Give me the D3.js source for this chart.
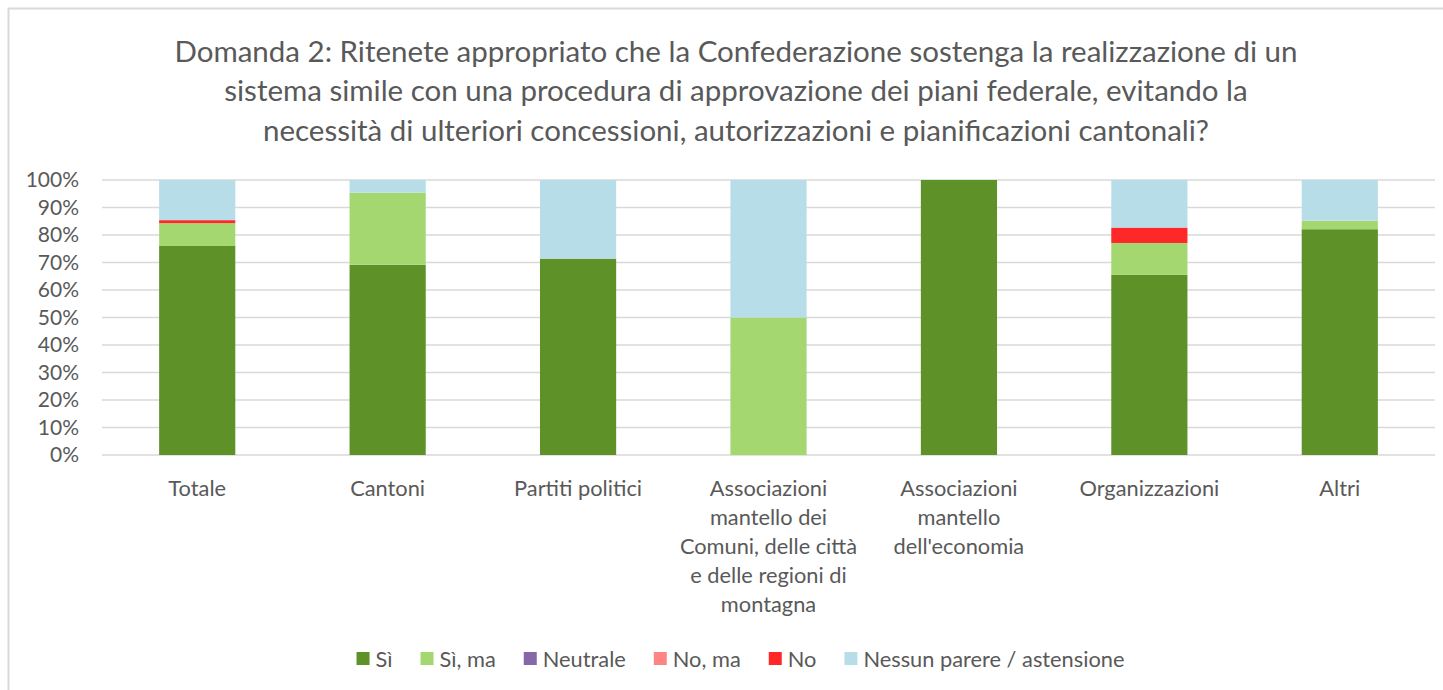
<!DOCTYPE html>
<html>
<head>
<meta charset="utf-8">
<script src="https://cdn.jsdelivr.net/npm/d3@7"></script>
<style>
  html, body { margin: 0; padding: 0; background: #fff; }
  svg { display: block; }
  text { font-family: Lato, "Noto Sans", sans-serif; fill: #595959; }
</style>
</head>
<body>
<svg id="chart" width="1443" height="690"></svg>
<script>
const titleLines = [
  "Domanda 2: Ritenete appropriato che la Confederazione sostenga la realizzazione di un",
  "sistema simile con una procedura di approvazione dei piani federale, evitando la",
  "necessità di ulteriori concessioni, autorizzazioni e pianificazioni cantonali?"
];
const categories = [
  ["Totale"],
  ["Cantoni"],
  ["Partiti politici"],
  ["Associazioni", "mantello dei", "Comuni, delle città", "e delle regioni di", "montagna"],
  ["Associazioni", "mantello", "dell'economia"],
  ["Organizzazioni"],
  ["Altri"]
];
const seriesNames = ["Sì", "Sì, ma", "Neutrale", "No, ma", "No", "Nessun parere / astensione"];
const seriesColors = ["#5f9129", "#a5d770", "#8667a8", "#ff8585", "#ff2828", "#b7dde8"];
const si        = [76.0, 69.2, 71.4,  0, 100, 65.5, 82.1];
const siMa      = [ 8.3, 26.2,  0,   50,   0, 11.6,  3.1];
const neutrale  = [ 0,    0,    0,    0,   0,  0,    0  ];
const noMa      = [ 0,    0,    0,    0,   0,  0,    0  ];
const no        = [ 1.1,  0,    0,    0,   0,  5.6,  0  ];
const nessun    = [14.6,  4.6, 28.6, 50,   0, 17.3, 14.8];
const yTicks = [0, 10, 20, 30, 40, 50, 60, 70, 80, 90, 100];

const seriesValues = [si, siMa, neutrale, noMa, no, nessun];

const svg = d3.select("#chart");

// outer border
svg.append("path")
  .attr("d", "M8.5,690 L8.5,8.5 L1443,8.5")
  .attr("fill", "none")
  .attr("stroke", "#d9d9d9")
  .attr("stroke-width", 2);

// title
svg.append("g").selectAll("text").data(titleLines).join("text")
  .attr("x", 736)
  .attr("y", (d, i) => 50 + i * 39.5)
  .attr("text-anchor", "middle")
  .attr("dominant-baseline", "central")
  .style("font-size", "29.5px")
  .text(d => d);

const margin = { left: 102, right: 1435, top: 180, bottom: 455 };
const keys = categories.map((c, i) => "c" + i);
const x = d3.scaleBand().domain(keys).range([margin.left, margin.right]).paddingInner(0.6).paddingOuter(0.3);
const y = d3.scaleLinear().domain([0, 100]).range([margin.bottom, margin.top]);

// gridlines
svg.append("g").selectAll("line").data(yTicks).join("line")
  .attr("x1", margin.left).attr("x2", margin.right)
  .attr("y1", d => y(d)).attr("y2", d => y(d))
  .attr("stroke", "#d9d9d9").attr("stroke-width", 1.5);

// y axis labels
const yAxis = d3.axisLeft(y).tickValues(yTicks).tickFormat(d => d + "%").tickSize(0).tickPadding(0);
const yg = svg.append("g").attr("transform", `translate(${79},0)`).call(yAxis);
yg.select(".domain").remove();
yg.selectAll("text").style("font-size", "21px").attr("fill", "#595959")
  .style("font-family", "Lato, 'Noto Sans', sans-serif");

// stacked data
const table = keys.map((k, i) => {
  const o = { key: k };
  seriesNames.forEach((s, j) => { o[s] = seriesValues[j][i]; });
  return o;
});
const stack = d3.stack().keys(seriesNames)(table);

svg.append("g").selectAll("g").data(stack).join("g")
  .attr("fill", (d, i) => seriesColors[i])
  .selectAll("rect").data(d => d).join("rect")
  .attr("x", d => x(d.data.key))
  .attr("width", x.bandwidth())
  .attr("y", d => y(d[1]))
  .attr("height", d => Math.max(0, y(d[0]) - y(d[1])));

// category labels
const cg = svg.append("g");
categories.forEach((lines, i) => {
  const t = cg.append("text")
    .attr("text-anchor", "middle")
    .style("font-size", "21.8px");
  lines.forEach((ln, j) => {
    t.append("tspan")
      .attr("x", x(keys[i]) + x.bandwidth() / 2)
      .attr("y", 487 + j * 29)
      .attr("dominant-baseline", "central")
      .text(ln);
  });
});

// legend
const lg = svg.append("g");
const items = seriesNames.map((name, i) => {
  const g = lg.append("g");
  g.append("rect").attr("width", 13).attr("height", 13).attr("y", 652).attr("fill", seriesColors[i]);
  const t = g.append("text").attr("x", 19).attr("y", 658.5).attr("dominant-baseline", "central")
    .style("font-size", "21.8px").text(name);
  return { g, w: 19 + t.node().getComputedTextLength() };
});
const gap = 28;
const total = d3.sum(items, d => d.w) + gap * (items.length - 1);
let cx = 740.5 - total / 2;
items.forEach(it => { it.g.attr("transform", `translate(${cx},0)`); cx += it.w + gap; });
</script>
</body>
</html>
